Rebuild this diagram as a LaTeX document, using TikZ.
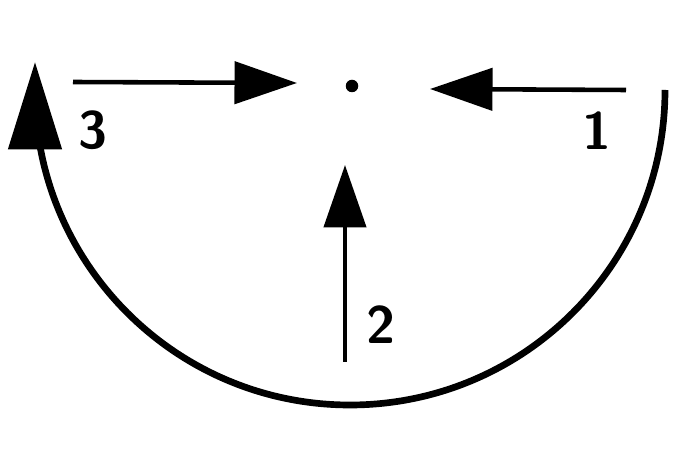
\documentclass[tikz,border=0pt]{standalone}
\usepackage{tikz}
\usetikzlibrary{arrows.meta}
\begin{document}
\begin{tikzpicture}[x=0.02cm,y=0.02cm]
\tikzstyle{num}=[font=\sffamily\bfseries\fontsize{30}{30}\selectfont,inner sep=0pt]
\tikzstyle{push}=[line width=2.6pt,-{Triangle[length=1.25cm,width=0.84cm]}]
\useasboundingbox (0,0) rectangle (680,473);
% centre point
\node[circle,fill,inner sep=0pt,minimum size=0.25cm] (c) at (352,387) {};
% ends of the pushes
\coordinate (t1) at (626,383);
\coordinate (h1) at (430,384);
\coordinate (t3) at (73,391);
\coordinate (h3) at (297,390);
\coordinate (t2) at (345,111);
\coordinate (h2) at (345,308);
% the pushes
\draw[push] (t1) -- (h1);
\draw[push] (t3) -- (h3);
\draw[push] (t2) -- (h2);
\node[num] (n1) at (597,342) {1};
\node[num] (n3) at (93,343) {3};
\node[num] (n2) at (381,148) {2};
% half turn round the point
\coordinate (a0) at (665,383);
\draw[line width=3.8pt,-{Triangle[length=1.75cm,width=1.05cm]}] (a0) arc[start angle=0,end angle=-180,radius=315] -- ++(0,28);
\end{tikzpicture}
\end{document}
